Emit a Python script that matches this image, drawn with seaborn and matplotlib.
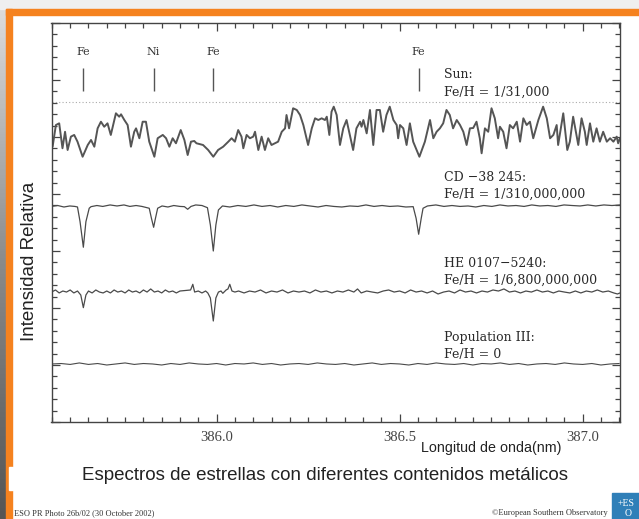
import numpy as np
import pandas as pd
import matplotlib
matplotlib.use("Agg")
import matplotlib.pyplot as plt
import seaborn as sns
from matplotlib.patches import Rectangle
from matplotlib.ticker import MultipleLocator

sns.set_theme(style="white")
plt.rcParams["font.family"] = ["Liberation Sans", "DejaVu Sans"]

# --- data (wavelength in nm, normalised intensity) ---
sun_wl = [
    385.549, 385.552, 385.561, 385.570, 385.579, 385.586, 385.593, 385.602, 385.611, 385.620,
    385.634, 385.648, 385.657, 385.666, 385.675, 385.684, 385.693, 385.702, 385.711, 385.725,
    385.734, 385.739, 385.748, 385.757, 385.766, 385.775, 385.780, 385.789, 385.798, 385.807,
    385.816, 385.830, 385.839, 385.853, 385.862, 385.871, 385.880, 385.889, 385.902, 385.912,
    385.921, 385.930, 385.939, 385.945, 385.963, 385.977, 385.991, 386.004, 386.018, 386.032,
    386.041, 386.050, 386.059, 386.068, 386.073, 386.082, 386.091, 386.100, 386.105, 386.114,
    386.123, 386.132, 386.141, 386.150, 386.159, 386.168, 386.178, 386.187, 386.191, 386.198,
    386.209, 386.219, 386.228, 386.237, 386.250, 386.260, 386.269, 386.278, 386.287, 386.296,
    386.301, 386.308, 386.314, 386.320, 386.328, 386.337, 386.346, 386.355, 386.364, 386.373,
    386.382, 386.392, 386.396, 386.401, 386.410, 386.419, 386.428, 386.437, 386.446, 386.455,
    386.464, 386.473, 386.483, 386.492, 386.496, 386.501, 386.510, 386.519, 386.528, 386.537,
    386.554, 386.569, 386.583, 386.592, 386.601, 386.610, 386.619, 386.628, 386.637, 386.646,
    386.656, 386.665, 386.674, 386.683, 386.692, 386.701, 386.710, 386.719, 386.724, 386.733,
    386.742, 386.751, 386.760, 386.769, 386.774, 386.783, 386.792, 386.801, 386.810, 386.820,
    386.829, 386.838, 386.847, 386.856, 386.865, 386.879, 386.892, 386.902, 386.911, 386.920,
    386.929, 386.933, 386.947, 386.958, 386.965, 386.974, 386.988, 386.997, 387.006, 387.011,
    387.020, 387.029, 387.038, 387.047, 387.056, 387.066, 387.075, 387.084, 387.093, 387.097,
    387.102,
]
sun_flux = [
    0.737, 0.608, 0.798, 0.813, 0.594, 0.739, 0.579, 0.696, 0.711, 0.652,
    0.520, 0.623, 0.667, 0.608, 0.769, 0.827, 0.783, 0.813, 0.711, 0.901,
    0.871, 0.892, 0.842, 0.798, 0.608, 0.739, 0.769, 0.682, 0.827, 0.827,
    0.652, 0.520, 0.682, 0.711, 0.682, 0.608, 0.682, 0.638, 0.754, 0.667,
    0.535, 0.652, 0.658, 0.638, 0.623, 0.579, 0.520, 0.579, 0.608, 0.652,
    0.682, 0.652, 0.754, 0.696, 0.594, 0.711, 0.682, 0.696, 0.739, 0.579,
    0.696, 0.579, 0.682, 0.623, 0.638, 0.652, 0.739, 0.769, 0.886, 0.769,
    0.945, 0.930, 0.886, 0.798, 0.623, 0.769, 0.857, 0.842, 0.857, 0.842,
    0.871, 0.711, 0.915, 0.959, 0.886, 0.623, 0.769, 0.842, 0.711, 0.579,
    0.769, 0.827, 0.783, 0.842, 0.725, 0.930, 0.623, 0.930, 0.930, 0.739,
    0.886, 0.959, 0.842, 0.798, 0.682, 0.798, 0.769, 0.623, 0.813, 0.652,
    0.520, 0.652, 0.842, 0.682, 0.739, 0.769, 0.813, 0.930, 0.886, 0.769,
    0.842, 0.798, 0.739, 0.623, 0.769, 0.772, 0.827, 0.682, 0.550, 0.769,
    0.739, 0.945, 0.857, 0.682, 0.783, 0.739, 0.594, 0.798, 0.769, 0.827,
    0.652, 0.857, 0.798, 0.827, 0.682, 0.842, 0.959, 0.857, 0.682, 0.711,
    0.798, 0.623, 0.901, 0.579, 0.652, 0.871, 0.623, 0.857, 0.739, 0.623,
    0.813, 0.652, 0.769, 0.652, 0.739, 0.652, 0.682, 0.652, 0.696, 0.638,
    0.682,
]

cd_wl = [
    385.549, 385.566, 385.583, 385.599, 385.613, 385.620, 385.627, 385.636, 385.643, 385.652,
    385.657, 385.673, 385.689, 385.709, 385.728, 385.747, 385.763, 385.780, 385.796, 385.816,
    385.822, 385.828, 385.833, 385.839, 385.851, 385.867, 385.883, 385.900, 385.912, 385.921,
    385.930, 385.943, 385.960, 385.975, 385.983, 385.991, 385.998, 386.005, 386.016, 386.036,
    386.058, 386.080, 386.102, 386.124, 386.146, 386.167, 386.189, 386.211, 386.233, 386.255,
    386.277, 386.299, 386.320, 386.342, 386.364, 386.386, 386.408, 386.430, 386.452, 386.473,
    386.495, 386.517, 386.537, 386.545, 386.552, 386.559, 386.564, 386.576, 386.599, 386.621,
    386.643, 386.665, 386.687, 386.708, 386.730, 386.752, 386.774, 386.796, 386.818, 386.840,
    386.861, 386.883, 386.905, 386.927, 386.949, 386.971, 386.993, 387.014, 387.036, 387.058,
    387.080, 387.102,
]
cd_flux = [
    0.996, 1.004, 0.991, 1.000, 0.996, 0.991, 0.862, 0.638, 0.862, 0.980,
    0.994, 1.004, 0.996, 1.009, 1.000, 1.009, 0.996, 1.004, 0.996, 0.980,
    0.892, 0.813, 0.892, 0.980, 1.000, 0.991, 1.004, 0.996, 0.994, 0.971,
    0.996, 1.009, 1.004, 0.985, 0.833, 0.605, 0.833, 0.965, 1.000, 0.991,
    1.004, 0.996, 1.009, 0.996, 1.004, 0.991, 1.004, 0.996, 1.009, 1.000,
    0.991, 1.004, 0.996, 0.991, 1.000, 0.996, 1.009, 0.996, 1.004, 0.996,
    1.000, 0.991, 0.994, 0.892, 0.752, 0.892, 0.980, 1.000, 1.009, 0.996,
    1.004, 0.996, 1.000, 0.991, 1.004, 0.996, 1.009, 1.000, 1.004, 0.996,
    1.009, 1.000, 1.004, 0.996, 1.009, 1.004, 1.000, 1.009, 1.000, 1.009,
    1.004, 1.009,
]

he_wl = [
    385.549, 385.560, 385.570, 385.580, 385.590, 385.600, 385.610, 385.620, 385.629, 385.636,
    385.643, 385.650, 385.660, 385.670, 385.680, 385.690, 385.700, 385.710, 385.720, 385.730,
    385.740, 385.750, 385.760, 385.770, 385.780, 385.790, 385.800, 385.810, 385.820, 385.830,
    385.840, 385.850, 385.860, 385.870, 385.880, 385.890, 385.900, 385.929, 385.935, 385.940,
    385.950, 385.960, 385.970, 385.976, 385.983, 385.991, 385.998, 386.005, 386.012, 386.017,
    386.026, 386.031, 386.036, 386.042, 386.050, 386.060, 386.075, 386.090, 386.105, 386.120,
    386.135, 386.150, 386.165, 386.180, 386.195, 386.210, 386.225, 386.240, 386.255, 386.270,
    386.285, 386.300, 386.315, 386.330, 386.345, 386.360, 386.375, 386.385, 386.395, 386.410,
    386.425, 386.440, 386.455, 386.470, 386.485, 386.500, 386.515, 386.530, 386.545, 386.560,
    386.575, 386.590, 386.605, 386.620, 386.635, 386.650, 386.665, 386.680, 386.695, 386.710,
    386.725, 386.740, 386.755, 386.770, 386.785, 386.800, 386.815, 386.830, 386.845, 386.860,
    386.875, 386.890, 386.905, 386.920, 386.935, 386.950, 386.965, 386.980, 386.995, 387.010,
    387.025, 387.040, 387.055, 387.070, 387.085, 387.095, 387.102,
]
he_flux = [
    0.997, 1.015, 0.989, 1.006, 0.997, 1.015, 0.989, 1.006, 0.971, 0.860,
    0.971, 1.006, 0.989, 1.015, 0.997, 0.989, 1.006, 0.989, 1.015, 0.997,
    1.006, 0.989, 1.015, 0.997, 1.006, 0.989, 1.015, 0.997, 1.024, 0.997,
    1.006, 0.989, 1.015, 0.997, 1.006, 0.989, 1.006, 1.015, 1.065, 0.997,
    1.006, 0.989, 1.006, 0.989, 0.945, 0.743, 0.945, 0.997, 1.006, 0.986,
    1.015, 1.024, 1.065, 1.006, 0.997, 1.006, 0.989, 1.006, 0.997, 1.015,
    0.989, 1.006, 0.997, 1.015, 0.989, 1.006, 0.997, 1.006, 0.989, 1.015,
    0.997, 1.006, 0.989, 1.006, 0.997, 1.015, 0.997, 1.024, 0.989, 1.006,
    0.997, 0.989, 1.006, 1.015, 0.997, 1.006, 0.989, 1.015, 0.997, 1.006,
    0.989, 1.006, 0.980, 0.997, 1.006, 0.989, 1.015, 0.997, 1.006, 0.989,
    1.006, 0.997, 1.015, 1.006, 1.024, 0.997, 1.006, 0.989, 1.006, 0.997,
    1.015, 0.997, 1.006, 0.989, 1.006, 0.997, 0.989, 1.006, 0.989, 1.006,
    0.997, 1.015, 0.997, 1.006, 0.989, 0.980, 0.989,
]

pop_wl = [
    385.550, 385.575, 385.600, 385.625, 385.650, 385.675, 385.700, 385.725, 385.750,
    385.775, 385.800, 385.825, 385.850, 385.875, 385.900, 385.925, 385.950, 385.975,
    386.000, 386.025, 386.050, 386.075, 386.100, 386.125, 386.150, 386.175, 386.200,
    386.225, 386.250, 386.275, 386.300, 386.325, 386.350, 386.375, 386.400, 386.425,
    386.450, 386.475, 386.500, 386.525, 386.550, 386.575, 386.600, 386.625, 386.650,
    386.675, 386.700, 386.725, 386.750, 386.775, 386.800, 386.825, 386.850, 386.875,
    386.900, 386.925, 386.950, 386.975, 387.000, 387.025, 387.050, 387.075, 387.100,
]
pop_flux = [
    1.000, 1.004, 0.996, 1.009, 0.996, 1.004, 0.991, 1.000, 1.009,
    0.996, 1.004, 1.000, 0.991, 1.004, 0.996, 1.009, 1.000, 0.996,
    1.004, 0.991, 1.004, 1.000, 1.009, 0.996, 1.004, 0.991, 1.000,
    1.004, 0.996, 1.009, 1.000, 0.996, 1.004, 0.991, 1.000, 1.009,
    0.996, 1.004, 1.000, 0.991, 1.004, 0.996, 1.009, 1.000, 0.996,
    1.004, 0.991, 1.004, 1.000, 1.009, 0.996, 1.004, 0.991, 1.000,
    1.004, 0.996, 1.009, 1.000, 0.996, 1.004, 0.991, 1.000, 1.004,
]

line_names = ["Fe", "Ni", "Fe", "Fe"]
line_wl = [385.636, 385.828, 385.991, 386.552]

star_names = ["Sun:", "CD \u221238 245:", "HE 0107\u22125240:", "Population III:"]
star_ratios = ["Fe/H = 1/31,000", "Fe/H = 1/310,000,000",
               "Fe/H = 1/6,800,000,000", "Fe/H = 0"]
x_ticks = [386.0, 386.5, 387.0]

# vertical placement of each spectrum (continuum level) and its label lines
offsets = [2.807, 1.895, 1.143, 0.509]
name_y = [3.044, 2.149, 1.390, 0.743]
ratio_y = [2.895, 2.000, 1.246, 0.596]

spectra = [(sun_wl, sun_flux), (cd_wl, cd_flux), (he_wl, he_flux), (pop_wl, pop_flux)]
frames = []
for i, (wl, fl) in enumerate(spectra):
    frames.append(pd.DataFrame({"wl": wl, "y": np.array(fl) - 1 + offsets[i], "star": i}))
df = pd.concat(frames, ignore_index=True)

fig = plt.figure(figsize=(6.39, 5.19), dpi=100, facecolor="white")

# slide decoration, drawn in pixel coordinates
bg = fig.add_axes([0, 0, 1, 1], zorder=-5)
bg.set_xlim(0, 639)
bg.set_ylim(519, 0)
bg.axis("off")
grad = np.linspace(0, 1, 200).reshape(-1, 1)
bg.imshow(grad, extent=[0, 6.5, 519, 9], cmap=sns.blend_palette(["#dcdcdc", "#8a8a8a", "#555555"], as_cmap=True),
          aspect="auto", zorder=0)
bg.add_patch(Rectangle((0, 0), 639, 9, color="#efefef", zorder=1))
bg.add_patch(Rectangle((6, 9), 633, 5.5, color="#f5821f", zorder=2))
bg.add_patch(Rectangle((6, 9), 5.5, 510, color="#f5821f", zorder=2))
bg.add_patch(Rectangle((9, 467), 4, 23, color="white", zorder=3))
bg.text(325, 476, "Espectros de estrellas con diferentes contenidos metálicos",
        ha="center", va="center", fontsize=13.5, color="#222222")
bg.text(491, 448, "Longitud de onda(nm)", ha="center", va="center", fontsize=10.3, color="#222222")
bg.text(30, 261, "Intensidad Relativa", ha="center", va="center", rotation=90,
        fontsize=13.5, color="#222222")
bg.text(14, 513, "ESO PR Photo 26b/02 (30 October 2002)", ha="left", va="center",
        fontsize=6, family="Liberation Serif", color="#333333")
bg.text(608, 513, "\u00a9European Southern Observatory", ha="right", va="center",
        fontsize=6, family="Liberation Serif", color="#333333")
bg.add_patch(Rectangle((612, 493), 27, 26, color="#2f7fb8", zorder=2))
bg.text(626, 503, "+ES", ha="center", va="center", fontsize=7, color="white",
        family="Liberation Serif", zorder=3)
bg.text(628, 513, "O", ha="center", va="center", fontsize=7, color="white",
        family="Liberation Serif", zorder=3)

ax = fig.add_axes([51.5 / 639, 1 - 422 / 519, (620 - 51.5) / 639, (422 - 23) / 519])
ax.set_facecolor("white")

widths = [1.4, 0.9, 0.9, 0.8]
colors = ["#555555", "#4a4a4a", "#4a4a4a", "#4a4a4a"]
for i in range(4):
    sns.lineplot(data=df[df["star"] == i], x="wl", y="y", ax=ax, color=colors[i],
                 lw=widths[i], estimator=None, sort=False)

ax.axhline(offsets[0], ls=(0, (1, 2)), color="#aaaaaa", lw=0.8)
ax.vlines(line_wl, 2.904, 3.105, color="#555555", lw=1.0)
for name, wl in zip(line_names, line_wl):
    ax.text(wl, 3.248, name, ha="center", va="center", fontsize=8, family="DejaVu Serif",
            color="#333333")

lab_x = 386.621
for i in range(4):
    ax.text(lab_x, name_y[i], star_names[i], ha="left", va="center", fontsize=9,
            family="DejaVu Serif", color="#2a2a2a")
    ax.text(lab_x, ratio_y[i], star_ratios[i], ha="left", va="center", fontsize=9,
            family="DejaVu Serif", color="#2a2a2a")

ax.set_xlim(385.549, 387.102)
ax.set_ylim(0, 3.5)
ax.set_xticks(x_ticks)
ax.set_xticklabels([f"{v:.1f}" for v in x_ticks], family="Liberation Serif", fontsize=10.5,
                   color="#444444")
ax.xaxis.set_minor_locator(MultipleLocator(0.05))
ax.yaxis.set_major_locator(MultipleLocator(0.5))
ax.yaxis.set_minor_locator(MultipleLocator(0.1))
ax.set_yticklabels([])
ax.tick_params(which="both", direction="in", top=True, right=True, bottom=True, left=True,
               color="#444444", width=0.9)
ax.tick_params(which="major", length=6, pad=6.5)
ax.tick_params(which="minor", length=3.5)
ax.set_xlabel("")
ax.set_ylabel("")
for s in ax.spines.values():
    s.set_color("#444444")
    s.set_linewidth(1.0)

fig.savefig("out.png", dpi=100, facecolor="white")
